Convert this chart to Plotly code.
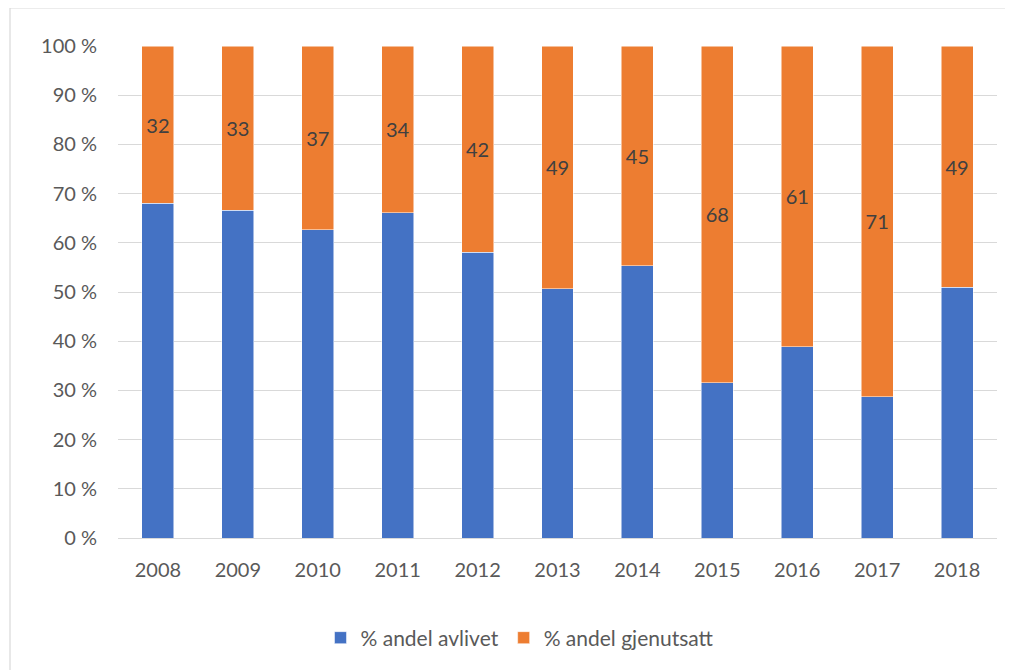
import plotly.graph_objects as go

years = ["2008", "2009", "2010", "2011", "2012", "2013", "2014", "2015", "2016", "2017", "2018"]
avlivet = [68.0, 66.6, 62.7, 66.1, 58.1, 50.7, 55.3, 31.6, 38.9, 28.7, 50.95]
gjenutsatt = [32.0, 33.4, 37.3, 33.9, 41.9, 49.3, 44.7, 68.4, 61.1, 71.3, 49.05]
ytick_vals = [0, 10, 20, 30, 40, 50, 60, 70, 80, 90, 100]
ytick_text = [f"{v} %" for v in ytick_vals]

FONT = "Lato, Liberation Sans, sans-serif"
FS = 20

fig = go.Figure()
fig.add_trace(go.Bar(
    x=years, y=avlivet, name="% andel avlivet",
    marker=dict(color="#4472C4", line=dict(color="#ffffff", width=0.5)),
    hoverinfo="skip",
))
fig.add_trace(go.Bar(
    x=years, y=gjenutsatt, name="% andel gjenutsatt",
    marker=dict(color="#ED7D31", line=dict(color="#ffffff", width=0.5)),
    texttemplate="%{y:.0f}", textposition="inside", insidetextanchor="middle",
    textangle=0, textfont=dict(family=FONT, size=FS, color="#404040"),
    hoverinfo="skip",
))

OFF = 8  # page body offset
W, H = 1013 - OFF, 670 - OFF
L, T = 118 - OFF, 46 - OFF
R = W - (997 - OFF)
B = H - (538 - OFF)
pw, ph = W - L - R, H - T - B

def px_x(p):
    return (p - OFF - L) / pw

def px_y(p):
    return (538 - p) / ph

fig.update_layout(
    width=W, height=H,
    margin=dict(l=L, r=R, t=T, b=B, autoexpand=False),
    barmode="stack", bargap=0.6,
    paper_bgcolor="white", plot_bgcolor="white",
    font=dict(family=FONT, size=FS, color="#595959"),
    showlegend=True,
    legend=dict(orientation="h", x=px_x(520), xanchor="center", y=px_y(638), yanchor="middle",
                font=dict(family=FONT, size=21, color="#595959"), traceorder="normal",
                itemwidth=30),
    uniformtext=dict(mode=False),
    shapes=[dict(type="rect", xref="paper", yref="paper",
                 x0=px_x(10), x1=px_x(1030), y0=px_y(690), y1=px_y(8),
                 line=dict(color="#d9d9d9", width=1.2), layer="below")],
)
fig.update_yaxes(range=[0, 100], tickvals=ytick_vals, ticktext=ytick_text,
                 showgrid=True, gridcolor="#d9d9d9", gridwidth=1.3,
                 zeroline=False, showline=False, ticklabelstandoff=20,
                 tickfont=dict(family=FONT, size=FS, color="#595959"))
fig.update_xaxes(showgrid=False, showline=True, linecolor="#d9d9d9", linewidth=1.3,
                 ticklabelstandoff=14, tickfont=dict(family=FONT, size=FS, color="#595959"))

fig.write_html("out.html")
